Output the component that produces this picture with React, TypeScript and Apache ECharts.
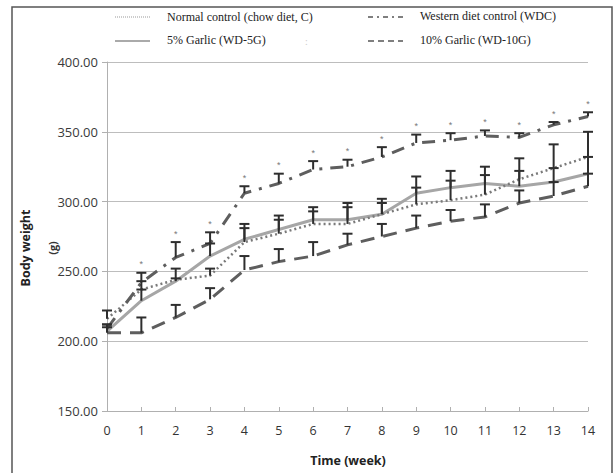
import React, { useEffect, useRef } from "react";
import * as echarts from "echarts";

const weeks = [0, 1, 2, 3, 4, 5, 6, 7, 8, 9, 10, 11, 12, 13, 14];
const yTicks = [150, 200, 250, 300, 350, 400];

const controlC = [216, 237, 244, 247, 271, 277, 284, 284, 291, 298, 301, 305, 316, 324, 332];
const controlCSd = [6, 6, 8, 5, 13, 13, 12, 15, 11, 12, 14, 14, 15, 17, 18];
const garlic5 = [207, 229, 243, 261, 273, 280, 287, 287, 291, 306, 310, 313, 311, 314, 320];
const garlic5Sd = [5, 8, 2, 9, 8, 7, 6, 9, 8, 12, 12, 12, 11, 10, 12];
const wdc = [209, 242, 260, 270, 306, 313, 323, 325, 332, 342, 344, 347, 346, 355, 361];
const wdcSd = [3, 7, 11, 8, 5, 7, 6, 5, 7, 6, 5, 4, 3, 2, 3];
const wdcStar = [0, 1, 1, 1, 1, 1, 1, 1, 1, 1, 1, 1, 1, 1, 1];
const garlic10 = [206, 206, 217, 230, 251, 257, 261, 269, 275, 281, 286, 289, 299, 304, 311];
const garlic10Sd = [4, 11, 9, 8, 10, 9, 10, 8, 9, 9, 8, 9, 9, 10, 9];

const legendNames = [
  "Normal control (chow diet, C)",
  "Western diet control (WDC)",
  "5% Garlic (WD-5G)",
  "10% Garlic (WD-10G)",
];

const pairs = (vals: number[]) => weeks.map((w, i) => [w, vals[i]]);
const errData = (vals: number[], sd: number[], star?: number[]) =>
  weeks.map((w, i) => [w, vals[i], sd[i], star ? star[i] : 0]);

const renderErr = (params: any, api: any) => {
  const x = api.value(0);
  const m = api.value(1);
  const s = api.value(2);
  const st = api.value(3);
  const p0 = api.coord([x, m]);
  const p1 = api.coord([x, m + s]);
  const style = { stroke: "#2e2e2e", lineWidth: 2 };
  const children: any[] = [
    { type: "line", shape: { x1: p0[0], y1: p0[1], x2: p1[0], y2: p1[1] }, style },
    { type: "line", shape: { x1: p1[0] - 5, y1: p1[1], x2: p1[0] + 5, y2: p1[1] }, style },
  ];
  if (st) {
    children.push({
      type: "text",
      style: {
        text: "*",
        x: p1[0],
        y: p1[1] - 4,
        align: "center",
        verticalAlign: "bottom",
        fill: "#777",
        font: "9px 'Liberation Sans'",
      },
    });
  }
  return { type: "group", children };
};

const errSeries = (name: string, vals: number[], sd: number[], star?: number[]) => ({
  type: "custom",
  name,
  renderItem: renderErr,
  data: errData(vals, sd, star),
  encode: { x: 0, y: 1 },
  z: 5,
  silent: true,
});

export default function App() {
  const ref = useRef<HTMLDivElement>(null);
  useEffect(() => {
    if (!ref.current) return;
    const chart = echarts.init(ref.current, undefined, { renderer: "svg" });
    const legendFont = "12px 'Liberation Serif'";
    chart.setOption({
      animation: false,
      backgroundColor: "#fff",
      grid: { left: 107, right: 27, top: 62, bottom: 62 },
      xAxis: {
        type: "value",
        min: 0,
        max: 14,
        interval: 1,
        axisLine: { lineStyle: { color: "#b0b0b0", width: 1 } },
        axisTick: { show: true, inside: true, length: 4, lineStyle: { color: "#b0b0b0" } },
        axisLabel: { color: "#333", fontFamily: "Open Sans", fontSize: 12.5, margin: 13 },
        splitLine: { show: false },
      },
      yAxis: {
        type: "value",
        min: yTicks[0],
        max: yTicks[yTicks.length - 1],
        interval: 50,
        axisLine: { show: true, lineStyle: { color: "#b0b0b0", width: 1 } },
        axisTick: { show: true, length: 5, lineStyle: { color: "#b0b0b0" } },
        axisLabel: {
          color: "#3a3a3a",
          fontFamily: "Open Sans",
          fontSize: 13,
          margin: 9,
          formatter: (v: number) => v.toFixed(2),
        },
        splitLine: { lineStyle: { color: "#bdbdbd", width: 1 } },
      },
      series: [
        {
          type: "line",
          name: legendNames[0],
          data: pairs(controlC),
          symbol: "none",
          lineStyle: { color: "#7a7a7a", width: 2.5, type: [2, 3] },
          z: 3,
        },
        {
          type: "line",
          name: legendNames[2],
          data: pairs(garlic5),
          symbol: "none",
          lineStyle: { color: "#a6a6a6", width: 3 },
          z: 2,
        },
        {
          type: "line",
          name: legendNames[1],
          data: pairs(wdc),
          symbol: "none",
          lineStyle: { color: "#5e5e5e", width: 3, type: [13, 8, 3, 8] },
          z: 3,
        },
        {
          type: "line",
          name: legendNames[3],
          data: pairs(garlic10),
          symbol: "none",
          lineStyle: { color: "#5e5e5e", width: 3, type: [14, 9] },
          z: 3,
        },
        errSeries("errC", controlC, controlCSd),
        errSeries("err5", garlic5, garlic5Sd),
        errSeries("errW", wdc, wdcSd, wdcStar),
        errSeries("err10", garlic10, garlic10Sd),
      ],
      graphic: [
        {
          type: "rect",
          shape: { x: 12, y: 7, width: 600, height: 476 },
          style: { fill: "none", stroke: "#555", lineWidth: 1.5 },
          silent: true,
        },
        // legend row 1
        {
          type: "line",
          shape: { x1: 115, y1: 17, x2: 150, y2: 17 },
          style: { stroke: "#999", lineWidth: 1, lineDash: [1, 1] },
        },
        {
          type: "text",
          style: { text: legendNames[0], x: 167, y: 17, verticalAlign: "middle", font: legendFont, fill: "#222" },
        },
        {
          type: "line",
          shape: { x1: 368, y1: 17, x2: 403, y2: 17 },
          style: { stroke: "#555", lineWidth: 1.3, lineDash: [5, 4, 2, 4] },
        },
        {
          type: "text",
          style: { text: legendNames[1], x: 420, y: 16, verticalAlign: "middle", font: legendFont, fill: "#222" },
        },
        // legend row 2
        {
          type: "line",
          shape: { x1: 115, y1: 41, x2: 150, y2: 41 },
          style: { stroke: "#aaa", lineWidth: 2 },
        },
        {
          type: "text",
          style: { text: legendNames[2], x: 167, y: 40, verticalAlign: "middle", font: legendFont, fill: "#222" },
        },
        {
          type: "text",
          style: { text: ":", x: 305, y: 41, verticalAlign: "middle", font: "10px 'Liberation Serif'", fill: "#ccc" },
        },
        {
          type: "line",
          shape: { x1: 368, y1: 41, x2: 403, y2: 41 },
          style: { stroke: "#555", lineWidth: 1.5, lineDash: [6, 4] },
        },
        {
          type: "text",
          style: { text: legendNames[3], x: 420, y: 40, verticalAlign: "middle", font: legendFont, fill: "#222" },
        },
        // axis titles
        {
          type: "text",
          x: 25,
          y: 248,
          rotation: Math.PI / 2,
          style: {
            text: "Body weight",
            align: "center",
            verticalAlign: "middle",
            font: "bold 12.5px 'Open Sans'",
            fill: "#222",
          },
        },
        {
          type: "text",
          x: 52,
          y: 248,
          rotation: Math.PI / 2,
          style: {
            text: "(g)",
            align: "center",
            verticalAlign: "middle",
            font: "bold 11px 'Open Sans'",
            fill: "#333",
          },
        },
        {
          type: "text",
          x: 348,
          y: 460,
          style: {
            text: "Time (week)",
            align: "center",
            verticalAlign: "middle",
            font: "bold 12.5px 'Open Sans'",
            fill: "#222",
          },
        },
      ],
    });
    return () => chart.dispose();
  }, []);
  return (
    <div
      ref={ref}
      style={{ position: "fixed", left: 0, top: 0, width: 615, height: 473 }}
    />
  );
}
